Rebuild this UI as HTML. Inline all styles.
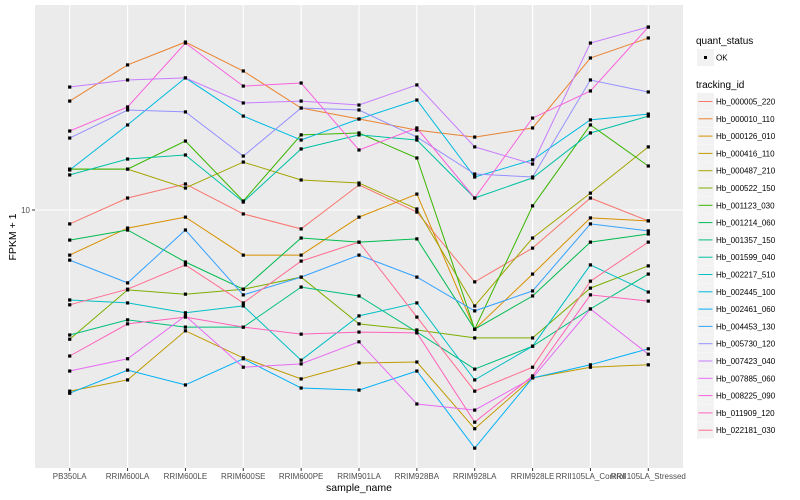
<!DOCTYPE html>
<html><head><meta charset="utf-8"><style>
body{margin:0;background:#fff;}
svg{display:block;font-family:"Liberation Sans",sans-serif;}
</style></head><body>
<svg id="chart" width="800" height="500" viewBox="0 0 800 500">
<rect x="35" y="5" width="648" height="463" fill="#ebebeb"/>
<g id="grid"></g><g id="lines"></g><g id="points"></g><g id="axes"></g><g id="legend"></g>
<text x="359" y="491" font-size="10.5" text-anchor="middle" fill="#000">sample_name</text>
<text x="0" y="0" font-size="10.5" text-anchor="middle" fill="#000" transform="translate(16,237) rotate(-90)">FPKM + 1</text>
</svg>
<script>
const categories=["PB350LA","RRIM600LA","RRIM600LE","RRIM600SE","RRIM600PE","RRIM901LA","RRIM928BA","RRIM928LA","RRIM928LE","RRII105LA_Control","RRII105LA_Stressed"];
const seriesNames=["Hb_000005_220","Hb_000010_110","Hb_000126_010","Hb_000416_110","Hb_000487_210","Hb_000522_150","Hb_001123_030","Hb_001214_060","Hb_001357_150","Hb_001599_040","Hb_002217_510","Hb_002445_100","Hb_002461_060","Hb_004453_130","Hb_005730_120","Hb_007423_040","Hb_007885_060","Hb_008225_090","Hb_011909_120","Hb_022181_030"];
const colors=["#F8766D","#EA8331","#D89000","#C09B00","#A3A500","#7CAE00","#39B600","#00BB4E","#00BF7D","#00C1A3","#00BFC4","#00BAE0","#00B0F6","#35A2FF","#9590FF","#C77CFF","#E76BF3","#FA62DB","#FF62BC","#FF6C91"];
const s01=[9.48,10.47,11.05,9.85,9.30,11.01,9.92,7.59,8.64,10.47,9.59];
const s02=[15.19,17.45,19.05,17.05,14.79,14.18,13.59,13.23,13.70,17.92,19.35];
const s03=[8.41,9.33,9.73,8.41,8.41,9.73,10.63,6.33,7.82,9.70,9.59];
const s04=[4.99,5.21,6.29,5.67,5.23,5.56,5.58,4.32,5.25,5.47,5.52];
const s05=[11.70,11.70,10.88,12.02,11.22,11.09,10.04,6.92,8.98,10.67,12.74];
const s06=[6.09,7.36,7.24,7.38,7.73,6.46,6.31,6.12,6.12,7.41,8.07];
const s07=[11.70,11.70,13.03,10.35,13.34,13.44,12.21,6.33,10.16,13.86,11.84];
const s08=[8.91,9.26,8.19,7.38,8.98,8.84,8.95,6.33,7.19,8.84,9.12];
const s09=[6.19,6.56,6.38,6.38,7.44,7.19,6.26,5.43,5.93,6.84,7.82];
const s10=[11.44,12.16,12.35,10.31,12.64,13.34,13.08,10.47,11.31,13.44,14.34];
const s11=[7.08,7.00,6.74,6.92,5.62,6.66,7.00,5.21,5.93,8.10,7.30];
const s12=[11.66,13.86,16.60,14.34,13.08,14.18,15.25,11.35,12.12,14.13,14.45];
const s13=[4.95,5.41,5.11,5.65,5.05,5.01,5.39,4.01,5.25,5.52,5.87];
const s14=[8.25,7.56,9.26,7.22,7.73,8.41,7.73,6.79,7.33,9.48,9.23];
const s15=[13.18,14.68,14.57,12.30,14.79,14.68,13.23,11.48,11.35,16.47,15.73];
const s16=[16.03,16.47,16.60,15.08,15.19,14.96,16.16,12.74,11.93,18.98,20.18];
const s17=[5.39,5.65,6.66,5.47,5.54,6.03,4.75,4.64,5.25,6.84,5.75];
const s18=[13.54,14.85,18.98,16.09,16.28,12.59,13.70,10.47,14.23,15.79,20.18];
const s19=[5.71,6.46,6.63,6.38,6.21,6.26,6.24,4.43,5.29,7.22,7.05];
const s20=[6.95,7.38,8.10,7.00,8.22,8.84,6.63,4.99,5.47,7.61,8.84];
const seriesValues=[s01,s02,s03,s04,s05,s06,s07,s08,s09,s10,s11,s12,s13,s14,s15,s16,s17,s18,s19,s20];
const yTicks=[10];

const NS="http://www.w3.org/2000/svg";
const L=35,R=683,T=5,B=468;
const step=(R-L)/(categories.length-1+1.2);
function xPos(i){return L+step*(0.6+i);}
function yPos(v){return 210-600*(Math.log10(v)-1);}
function mk(tag,attrs,parent){const e=document.createElementNS(NS,tag);for(const k in attrs)e.setAttribute(k,attrs[k]);parent.appendChild(e);return e;}
const grid=document.getElementById('grid'),lines=document.getElementById('lines'),pts=document.getElementById('points'),axes=document.getElementById('axes'),leg=document.getElementById('legend');

yTicks.forEach(t=>{
  const y=yPos(t);
  const g=mk('line',{x1:L,x2:R,y1:y,y2:y,stroke:'#fff','stroke-width':1.1},grid);
  
  
  const tk=mk('line',{x1:L-3,x2:L,y1:y,y2:y,stroke:'#333','stroke-width':1},axes);
  
  
  const tx=mk('text',{x:L-5,y:y+3,'font-size':8,'text-anchor':'end',fill:'#4d4d4d'},axes);
  tx.textContent=t;
  
  
});
categories.forEach((c,i)=>{
  const x=xPos(i);
  const g=mk('line',{x1:x,x2:x,y1:T,y2:B,stroke:'#fff','stroke-width':1.1},grid);
  
  
  const tk=mk('line',{x1:x,x2:x,y1:B,y2:B+3,stroke:'#333','stroke-width':1},axes);
  
  
  const tx=mk('text',{x:x,y:B+11,'font-size':8,'text-anchor':'middle',fill:'#4d4d4d'},axes);
  tx.textContent=c;
  
  
});
seriesValues.forEach((vals,s)=>{
  const d=vals.map((v,i)=>(i?'L':'M')+xPos(i).toFixed(1)+','+yPos(v).toFixed(1)).join(' ');
  const p=mk('path',{d:d,fill:'none',stroke:colors[s],'stroke-width':1},lines);
  
  
  vals.forEach((v,i)=>{
    const c=mk('rect',{x:xPos(i)-1.6,y:yPos(v)-1.6,width:3.2,height:3.2,fill:'#000'},pts);
    
    
  });
});
// legend
const t1=mk('text',{x:696,y:44,'font-size':10,fill:'#000'},leg);
t1.textContent='quant_status';


const kb=mk('rect',{x:697,y:49,width:17,height:17,fill:'#f2f2f2'},leg);


const kd=mk('rect',{x:704,y:56,width:3,height:3,fill:'#000'},leg);


const ok=mk('text',{x:716,y:60.5,'font-size':8,fill:'#000'},leg);
ok.textContent='OK';


const t2=mk('text',{x:696,y:88,'font-size':10,fill:'#000'},leg);
t2.textContent='tracking_id';


seriesNames.forEach((n,i)=>{
  const y=93+i*17.3;
  const b=mk('rect',{x:697,y:y,width:17,height:17,fill:'#f2f2f2'},leg);
  
  
  const ln=mk('line',{x1:698.5,x2:712.5,y1:y+8.5,y2:y+8.5,stroke:colors[i],'stroke-width':1},leg);
  
  
  const tx=mk('text',{x:716,y:y+11.5,'font-size':8,fill:'#000'},leg);
  tx.textContent=n;
  
  
});
</script>
</body></html>
